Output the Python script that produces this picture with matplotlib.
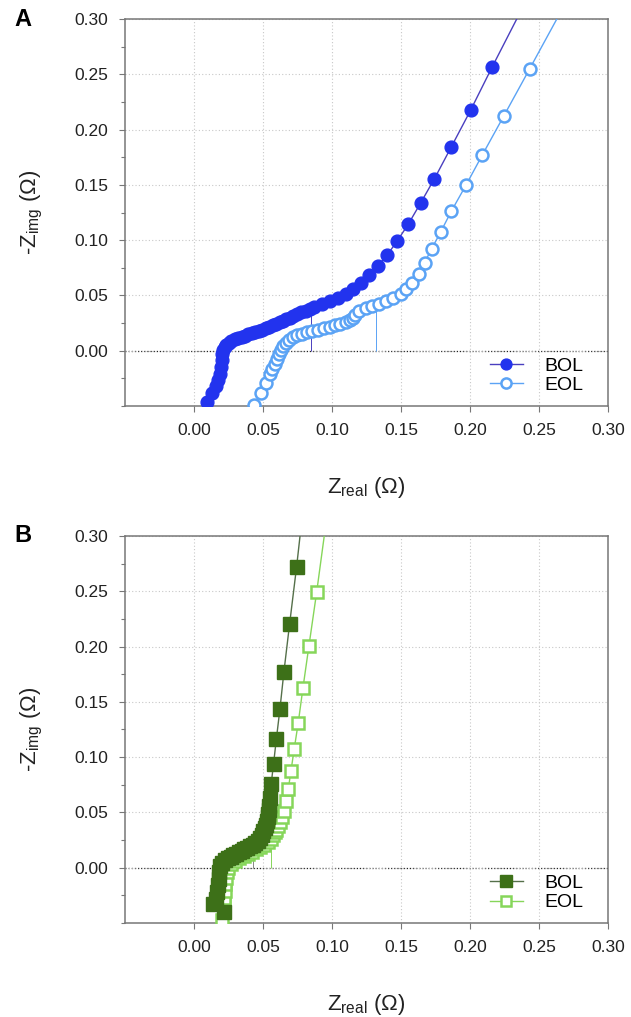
"""
Diagrammes de Nyquist BOL / EOL : panneau A (cercles bleus), panneau B (carrés verts).
"""

import numpy as np
import matplotlib.pyplot as plt
from matplotlib.ticker import MultipleLocator

plt.rcParams["font.family"] = ["Liberation Sans", "DejaVu Sans"]
plt.rcParams["mathtext.fontset"] = "custom"
plt.rcParams["mathtext.rm"] = "Liberation Sans"

# ── Panneau A ────────────────────────────────────────────────────────────────
a_bol_x = [0.0097, 0.0133, 0.0157, 0.0177, 0.0189, 0.0196, 0.0201, 0.0206,
           0.0213, 0.0222, 0.0235, 0.0252, 0.0272, 0.0295, 0.0320, 0.0345,
           0.0370, 0.0395, 0.0420, 0.0445, 0.0470, 0.0495, 0.0520, 0.0545,
           0.0570, 0.0595, 0.0620, 0.0645, 0.0670, 0.0695, 0.0720, 0.0748,
           0.0778, 0.0810, 0.0840, 0.0870, 0.0925, 0.0986, 0.1043, 0.1099,
           0.1155, 0.1213, 0.1271, 0.1333, 0.1399, 0.1473, 0.1553, 0.1643,
           0.1742, 0.1865, 0.2005, 0.2162, 0.2380]
a_bol_y = [-0.0465, -0.0383, -0.0323, -0.0269, -0.0208, -0.0148, -0.0088, -0.0033,
           0.0009, 0.0030, 0.0052, 0.0072, 0.0090, 0.0104, 0.0116, 0.0127,
           0.0137, 0.0147, 0.0157, 0.0167, 0.0178, 0.0190, 0.0203, 0.0216,
           0.0230, 0.0244, 0.0258, 0.0272, 0.0286, 0.0300, 0.0315, 0.0330,
           0.0346, 0.0363, 0.0378, 0.0395, 0.0420, 0.0447, 0.0477, 0.0516,
           0.0561, 0.0616, 0.0682, 0.0767, 0.0863, 0.0993, 0.1144, 0.1337,
           0.1554, 0.1844, 0.2176, 0.2569, 0.3100]

a_eol_x = [0.0435, 0.0483, 0.0519, 0.0548, 0.0568, 0.0585, 0.0599, 0.0614,
           0.0628, 0.0645, 0.0664, 0.0688, 0.0717, 0.0749, 0.0785, 0.0821,
           0.0857, 0.0901, 0.0942, 0.0983, 0.1022, 0.1058, 0.1099, 0.1130,
           0.1150, 0.1165, 0.1196, 0.1244, 0.1292, 0.1341, 0.1389, 0.1442,
           0.1498, 0.1539, 0.1582, 0.1630, 0.1671, 0.1722, 0.1787, 0.1865,
           0.1971, 0.2089, 0.2246, 0.2432, 0.2660]
a_eol_y = [-0.0489, -0.0380, -0.0290, -0.0214, -0.0163, -0.0118, -0.0072, -0.0033,
           0.0003, 0.0039, 0.0069, 0.0100, 0.0124, 0.0140, 0.0154, 0.0166,
           0.0175, 0.0190, 0.0202, 0.0215, 0.0228, 0.0242, 0.0256, 0.0278,
           0.0300, 0.0325, 0.0362, 0.0384, 0.0406, 0.0425, 0.0448, 0.0475,
           0.0510, 0.0556, 0.0616, 0.0697, 0.0797, 0.0921, 0.1072, 0.1262,
           0.1497, 0.1769, 0.2125, 0.2548, 0.3070]

a_trait_x = [0.0850, 0.1316]
a_trait_y = [0.0365, 0.0426]

# ── Panneau B ────────────────────────────────────────────────────────────────
b_bol_x = [0.0217, 0.0138, 0.0160, 0.0170, 0.0175, 0.0180, 0.0182, 0.0190,
           0.0205, 0.0225, 0.0245, 0.0265, 0.0285, 0.0305, 0.0325, 0.0345,
           0.0365, 0.0385, 0.0405, 0.0425, 0.0445, 0.0462, 0.0478, 0.0490,
           0.0502, 0.0512, 0.0520, 0.0527, 0.0533, 0.0538, 0.0542, 0.0545,
           0.0548, 0.0560, 0.0577, 0.0597, 0.0623, 0.0652, 0.0693, 0.0744,
           0.0800]
b_bol_y = [-0.0400, -0.0330, -0.0280, -0.0220, -0.0160, -0.0100, -0.0040, 0.0015,
           0.0045, 0.0068, 0.0085, 0.0100, 0.0113, 0.0126, 0.0139, 0.0152,
           0.0165, 0.0178, 0.0192, 0.0208, 0.0225, 0.0245, 0.0270, 0.0298,
           0.0328, 0.0358, 0.0390, 0.0422, 0.0456, 0.0490, 0.0525, 0.0560,
           0.0631, 0.0761, 0.0942, 0.1162, 0.1434, 0.1772, 0.2203, 0.2723,
           0.3350]

b_eol_x = [0.0200, 0.0215, 0.0220, 0.0225, 0.0228, 0.0232, 0.0238, 0.0250,
           0.0270, 0.0300, 0.0330, 0.0360, 0.0390, 0.0420, 0.0450, 0.0480,
           0.0510, 0.0535, 0.0556, 0.0572, 0.0585, 0.0595, 0.0606, 0.0621,
           0.0635, 0.0652, 0.0669, 0.0684, 0.0703, 0.0727, 0.0756, 0.0790,
           0.0833, 0.0889, 0.0955]
b_eol_y = [-0.0470, -0.0330, -0.0270, -0.0210, -0.0150, -0.0090, -0.0040, 0.0000,
           0.0030, 0.0060, 0.0085, 0.0105, 0.0125, 0.0145, 0.0165, 0.0185,
           0.0205, 0.0230, 0.0260, 0.0293, 0.0320, 0.0345, 0.0374, 0.0414,
           0.0459, 0.0510, 0.0601, 0.0715, 0.0875, 0.1078, 0.1313, 0.1627,
           0.2004, 0.2490, 0.3100]

b_trait_x = [0.0430, 0.0560]
b_trait_y = [0.0081, 0.0248]

graduations = [0.00, 0.05, 0.10, 0.15, 0.20, 0.25, 0.30]
etiquettes = ["0.00", "0.05", "0.10", "0.15", "0.20", "0.25", "0.30"]


def habiller(ax, lettre):
    ax.set_xlim(-0.05, 0.30)
    ax.set_ylim(-0.05, 0.30)
    ax.set_xticks(graduations, etiquettes)
    ax.set_yticks(graduations, etiquettes)
    ax.yaxis.set_minor_locator(MultipleLocator(0.025))
    ax.grid(True, which="major", ls=(0, (1, 2)), color="#c8c8c8", lw=0.8, zorder=0)
    ax.axhline(0, color="#222222", ls=(0, (1, 1.5)), lw=0.9, zorder=1)
    ax.tick_params(which="major", direction="out", length=4, width=0.8,
                   color="#777777", labelsize=12.5, labelcolor="#222222", pad=8)
    ax.tick_params(which="minor", direction="out", length=3, width=0.8,
                   color="#777777")
    for s in ax.spines.values():
        s.set_color("#777777")
        s.set_linewidth(1.1)
    ax.set_xlabel(r"$\mathregular{Z_{real}}$ (Ω)", fontsize=16, color="#222222")
    ax.set_ylabel(r"-$\mathregular{Z_{img}}$ (Ω)", fontsize=16, color="#222222")
    ax.xaxis.set_label_coords(0.5, -0.178)
    ax.yaxis.set_label_coords(-0.165, 0.5)
    ax.text(-0.228, 1.0, lettre, transform=ax.transAxes, fontsize=17,
            fontweight="bold", ha="left", va="center")


fig = plt.figure(figsize=(6.31, 10.17), dpi=100)
ax_a = fig.add_axes([0.198, 0.6008, 0.7655, 0.3805])
ax_b = fig.add_axes([0.198, 0.0924, 0.7655, 0.3806])

# Panneau A
bleu, bleu_trait, bleu_clair = "#2233ee", "#4a3fbf", "#5ba3f5"
ax_a.vlines(a_trait_x, 0, a_trait_y, colors=[bleu_trait, bleu_clair], lw=0.7, zorder=2)
l1, = ax_a.plot(a_bol_x, a_bol_y, "-o", color=bleu_trait, lw=1.0,
                mfc=bleu, mec=bleu, ms=9.2, label="BOL", zorder=3)
l2, = ax_a.plot(a_eol_x, a_eol_y, "-o", color=bleu_clair, lw=1.0,
                mfc="white", mec=bleu_clair, mew=1.8, ms=8.6, label="EOL", zorder=3)
ax_a.legend(handles=[l1, l2], loc="lower right", bbox_to_anchor=(0.985, -0.015),
            frameon=False, fontsize=14, handlelength=1.7, handletextpad=1.1,
            labelspacing=0.1, markerscale=0.85)
habiller(ax_a, "A")

# Panneau B
vert, vert_trait, vert_clair = "#3d7018", "#55704a", "#86d65a"
ax_b.vlines(b_trait_x, 0, b_trait_y, colors=["#888888", vert_clair], lw=0.7, zorder=2)
l4, = ax_b.plot(b_eol_x, b_eol_y, "-s", color=vert_clair, lw=1.0,
                mfc="white", mec=vert_clair, mew=1.8, ms=8.8, label="EOL", zorder=3)
l3, = ax_b.plot(b_bol_x, b_bol_y, "-s", color=vert_trait, lw=1.0,
                mfc=vert, mec=vert, ms=9.4, label="BOL", zorder=4)
ax_b.legend(handles=[l3, l4], loc="lower right", bbox_to_anchor=(0.985, -0.015),
            frameon=False, fontsize=14, handlelength=1.7, handletextpad=1.1,
            labelspacing=0.1, markerscale=0.85)
habiller(ax_b, "B")

plt.savefig("out.png", dpi=100)
